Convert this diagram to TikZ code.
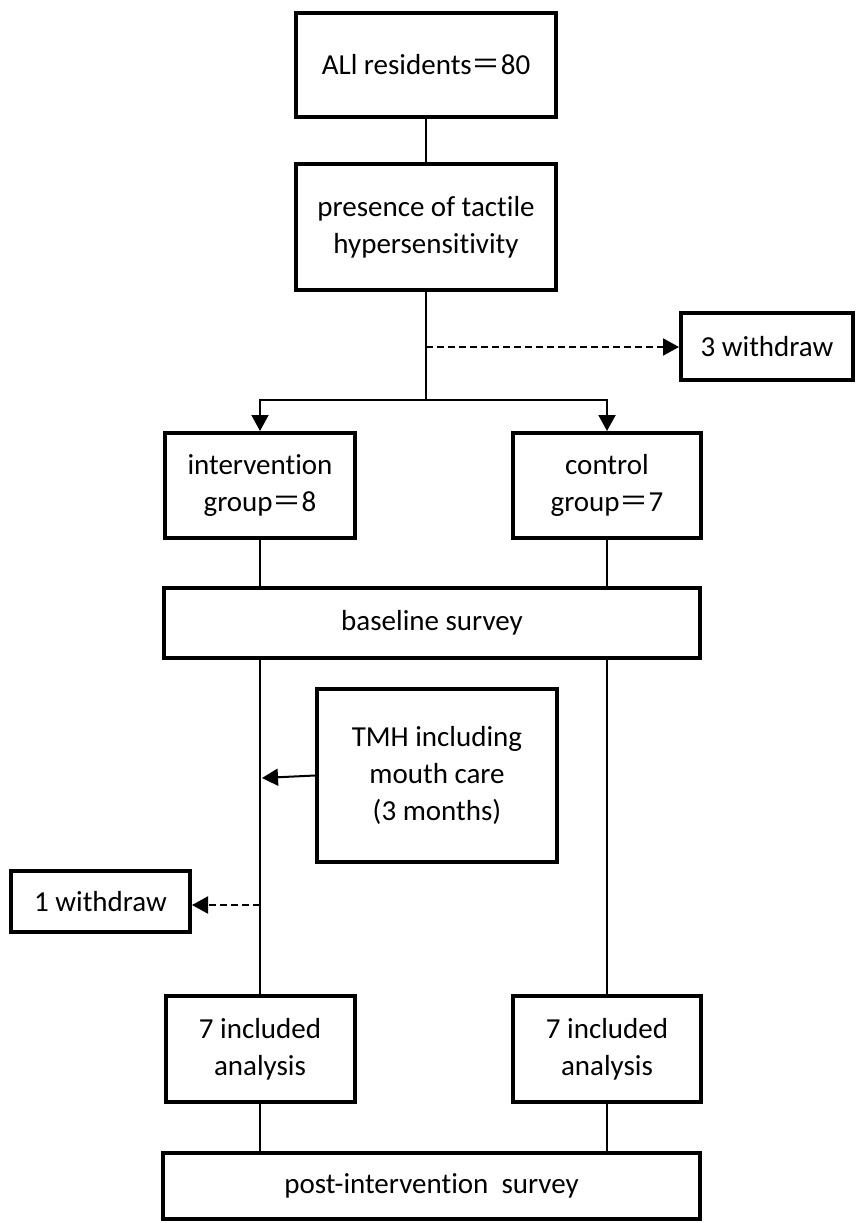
\documentclass[tikz,border=0pt]{standalone}
\usepackage{fontspec}
\setmainfont{Carlito}[Ligatures={NoCommon}]
\newfontfamily\cjk{Noto Sans CJK SC}
\usetikzlibrary{arrows.meta}
\newcommand{\feq}{{\cjk ＝}}
\begin{document}
\begin{tikzpicture}[x=1pt,y=-1pt,
  box/.style={draw,line width=4pt,inner sep=0pt,align=center,font=\fontsize{29}{37}\selectfont},
  conn/.style={line width=2pt},
  tip/.style={-{Triangle[length=16pt,width=17pt]}},
  dsh/.style={dash pattern=on 7pt off 4pt}]
\useasboundingbox (0,0) rectangle (856,1223);

\node[box,minimum width=260pt,minimum height=104pt] (b1) at (426,65) {ALl residents\feq80};
\node[box,minimum width=260pt,minimum height=126pt] (b2) at (426,227) {presence of tactile\\hypersensitivity};
\node[box,minimum width=172pt,minimum height=67pt] (w3) at (767,346.5) {3 withdraw};
\node[box,minimum width=190pt,minimum height=105pt] (int) at (260,485.5) {intervention\\group\feq8};
\node[box,minimum width=188pt,minimum height=105pt] (ctl) at (607,485.5) {control\\group\feq7};
\node[box,minimum width=536pt,minimum height=70pt] (base) at (432,623) {baseline survey};
\node[box,minimum width=240pt,minimum height=173pt] (tmh) at (437,775.5) {TMH including\\mouth care\\(3 months)};
\node[box,minimum width=179pt,minimum height=61pt] (w1) at (100.5,901.5) {1 withdraw};
\node[box,minimum width=189pt,minimum height=106pt] (inc1) at (260,1049) {7 included\\analysis};
\node[box,minimum width=188pt,minimum height=106pt] (inc2) at (607,1049) {7 included\\analysis};
\node[box,minimum width=537pt,minimum height=66pt] (post) at (431.5,1186) {post-intervention\ \ survey};

\coordinate (j) at (426,400);
\coordinate (d3) at (426,347);
\coordinate (t1) at (262,778);
\coordinate (d1) at (260,905);

\draw[conn] (b1.south) -- (b2.north);
\draw[conn] (b2.south) -- (j);
\draw[conn,tip] (j) -| (int.north);
\draw[conn,tip] (j) -| (ctl.north);
\draw[conn,dsh,tip] (d3) -- (d3 -| w3.west);
\draw[conn] (int.south) -- (int.south |- base.north);
\draw[conn] (ctl.south) -- (ctl.south |- base.north);
\draw[conn] (int.south |- base.south) -- (inc1.north);
\draw[conn] (ctl.south |- base.south) -- (inc2.north);
\draw[conn,tip] (tmh.west) -- (t1);
\draw[conn,dsh,tip] (d1) -- (d1 -| w1.east);
\draw[conn] (inc1.south) -- (inc1.south |- post.north);
\draw[conn] (inc2.south) -- (inc2.south |- post.north);
\end{tikzpicture}
\end{document}
